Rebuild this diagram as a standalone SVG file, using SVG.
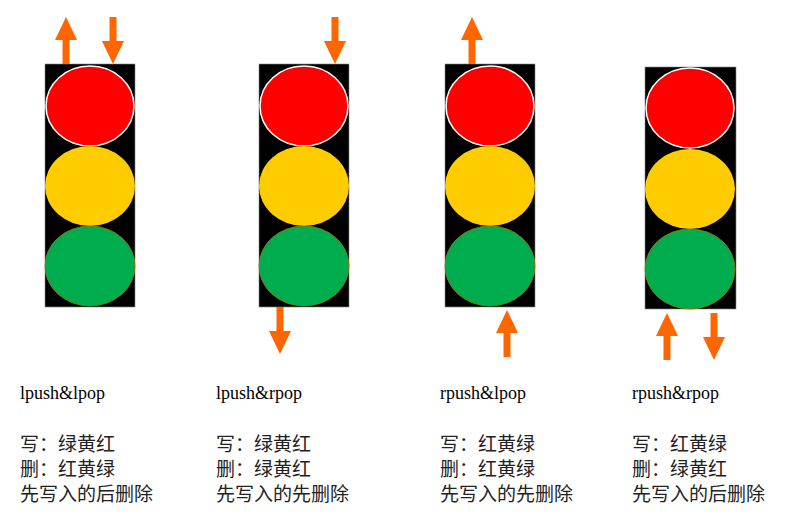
<svg xmlns="http://www.w3.org/2000/svg" width="800" height="518" viewBox="0 0 800 518">
<style>
.box{fill:#000;stroke:#888;stroke-width:0.6}
.r{fill:#ff0000;stroke:#fff;stroke-width:1.5}
.y{fill:#ffcc00}
.g{fill:#00ad4e;stroke:#9a7a00;stroke-width:0.8}
.arr{fill:#ff6600}
.t{font-family:"Liberation Serif",serif;font-size:18px;fill:#000}
.c{font-family:"Noto Sans CJK SC",sans-serif;font-size:19px;fill:#222}
</style>
<defs>
<path id="up" class="arr" d="M-3.5,0 V-24 H-11 L0,-47 L11,-24 H3.5 V0 Z"/>
<path id="down" class="arr" d="M-3.5,0 V24 H-11 L0,47 L11,24 H3.5 V0 Z"/>
</defs>
<g id="light1">
<rect class="box" x="45" y="64" width="90" height="243"/>
<ellipse class="r" cx="90" cy="106" rx="44" ry="40"/>
<ellipse class="y" cx="90" cy="186" rx="45" ry="40"/>
<ellipse class="g" cx="90" cy="266" rx="45" ry="40"/>
</g>
<g id="light2">
<rect class="box" x="259" y="64" width="90" height="243"/>
<ellipse class="r" cx="304" cy="106" rx="44" ry="40"/>
<ellipse class="y" cx="304" cy="186" rx="45" ry="40"/>
<ellipse class="g" cx="304" cy="266" rx="45" ry="40"/>
</g>
<g id="light3">
<rect class="box" x="445" y="64" width="90" height="243"/>
<ellipse class="r" cx="490" cy="106" rx="44" ry="40"/>
<ellipse class="y" cx="490" cy="186" rx="45" ry="40"/>
<ellipse class="g" cx="490" cy="266" rx="45" ry="40"/>
</g>
<g id="light4">
<rect class="box" x="645" y="67" width="91" height="242"/>
<ellipse class="r" cx="690" cy="108" rx="44" ry="40"/>
<ellipse class="y" cx="690" cy="189" rx="45" ry="40"/>
<ellipse class="g" cx="690" cy="269" rx="45" ry="40"/>
</g>
<g id="connectors">
<use href="#up" transform="translate(66,64)"/>
<use href="#down" transform="translate(113,17)"/>
<use href="#down" transform="translate(335,17)"/>
<use href="#down" transform="translate(280,307)"/>
<use href="#up" transform="translate(472,64)"/>
<use href="#up" transform="translate(507,357)"/>
<use href="#up" transform="translate(667,360)"/>
<use href="#down" transform="translate(714,313)"/>
</g>
<g id="labels">
<text class="t" x="20" y="399">lpush&amp;lpop</text>
<text class="c" x="20" y="451">写：绿黄红</text>
<text class="c" x="20" y="476">删：红黄绿</text>
<text class="c" x="20" y="501">先写入的后删除</text>
<text class="t" x="216" y="399">lpush&amp;rpop</text>
<text class="c" x="216" y="451">写：绿黄红</text>
<text class="c" x="216" y="476">删：绿黄红</text>
<text class="c" x="216" y="501">先写入的先删除</text>
<text class="t" x="440" y="399">rpush&amp;lpop</text>
<text class="c" x="440" y="451">写：红黄绿</text>
<text class="c" x="440" y="476">删：红黄绿</text>
<text class="c" x="440" y="501">先写入的先删除</text>
<text class="t" x="632" y="399">rpush&amp;rpop</text>
<text class="c" x="632" y="451">写：红黄绿</text>
<text class="c" x="632" y="476">删：绿黄红</text>
<text class="c" x="632" y="501">先写入的后删除</text>
</g>
</svg>
